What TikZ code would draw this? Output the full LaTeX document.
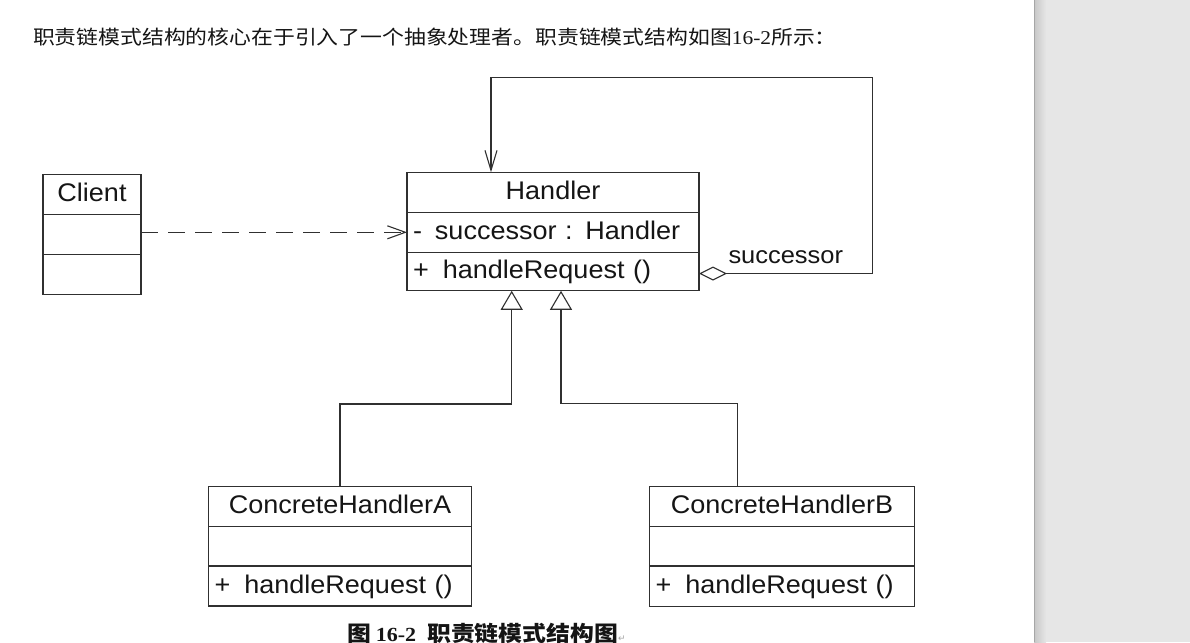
\documentclass[tikz,border=0pt]{standalone}
\usepackage{fontspec}
\setmainfont{Liberation Sans}[FakeStretch=1.06]
\newfontfamily\cjk{Noto Sans CJK SC}[FakeStretch=1.12]
\newfontfamily\serifnum{Liberation Serif}[FakeStretch=1.1]
\newfontfamily\symfont{DejaVu Sans}
\usetikzlibrary{arrows.meta,calc}
\definecolor{panel}{HTML}{E6E6E6}
\definecolor{ink}{HTML}{151515}
\definecolor{edge}{HTML}{303030}
\begin{document}
\begin{tikzpicture}[x=1pt,y=-1pt,
  uml/.style={draw=edge, line width=1.1pt, inner sep=0pt, outer sep=0pt,
    text height=19pt, text depth=5pt, minimum height=40pt,
    font=\fontsize{25.5}{30}\selectfont, text=ink},
  titlerow/.style={uml},
  cell/.style={uml},
  lrow/.style={uml, align=left, inner xsep=6pt},
  dep/.style={draw=edge, line width=1.1pt, dash pattern=on 17pt off 10pt,
    -{Straight Barb[length=18pt,width=13pt]}},
  gen/.style={draw=edge, line width=1.1pt,
    -{Triangle[open,length=19pt,width=22pt]}},
  agg/.style={draw=edge, line width=1.1pt,
    {Diamond[open,length=28pt,width=14pt]}-{Straight Barb[length=20pt,width=12pt]}},
  plain/.style={inner sep=0pt, outer sep=0pt, text=ink}
]
\useasboundingbox (0,0) rectangle (1190,642);
\fill[white] (0,0) rectangle (1034,642);
\fill[panel] (1034,0) rectangle (1190,642);
\shade[left color=black!22, right color=panel] (1034,0) rectangle (1046,642);
\draw[black!35, line width=1pt] (1034.5,0) -- (1034.5,642);

% intro text
\node[plain, anchor=base west, font=\fontsize{19.5}{22}\selectfont\cjk] (intro) at (33,44.5)
  {职责链模式结构的核心在于引入了一个抽象处理者。职责链模式结构如图{\serifnum 16-2}所示：};

% Client
\node[titlerow, minimum width=98pt, anchor=north west] (c1) at (43,174.3) {Client};
\node[cell, minimum width=98pt, anchor=north] (c2) at (c1.south) {};
\node[cell, minimum width=98pt, anchor=north] (c3) at (c2.south) {};

% Handler
\node[titlerow, minimum width=292pt, anchor=north west] (h1) at (407,172.3) {Handler};
\node[lrow, text width=280pt, anchor=north] (h2) at (h1.south) {-\hspace{13pt}successor : Handler};
\node[lrow, text width=280pt, anchor=north, minimum height=38.5pt] (h3) at (h2.south) {+\hspace{14pt}handleRequest ()};

% ConcreteHandlerA
\node[titlerow, minimum width=263pt, anchor=north west] (a1) at (208.5,486.7) {ConcreteHandlerA};
\node[cell, minimum width=263pt, anchor=north, minimum height=39.3pt] (a2) at (a1.south) {};
\node[lrow, text width=251pt, anchor=north] (a3) at (a2.south) {+\hspace{14pt}handleRequest ()};

% ConcreteHandlerB
\node[titlerow, minimum width=265pt, anchor=north west] (b1) at (649.5,486.7) {ConcreteHandlerB};
\node[cell, minimum width=265pt, anchor=north, minimum height=39.3pt] (b2) at (b1.south) {};
\node[lrow, text width=253pt, anchor=north, minimum height=40.7pt] (b3) at (b2.south) {+\hspace{14pt}handleRequest ()};

% label
\node[plain, anchor=base west, font=\fontsize{24}{28}\selectfont] (succ) at (728.5,263.3) {successor};

% coordinates
\coordinate (ta) at ($(h3.south west)+(104.7,0)$);
\coordinate (tb) at ($(h3.south west)+(154,0)$);
\coordinate (pb) at ($(b1.north west)+(88.2,0)$);
\coordinate (lr) at (872.3,77.3);
\coordinate (ht) at ($(h1.north west)+(84,0)$);

% connectors
\draw[dep] (c2.east |- h2.west) -- (h2.west);
\draw[gen] (a1.north) -- ++(0,-82.7) -| (ta);
\draw[gen] (pb) -- ++(0,-83.4) -| (tb);
\draw[agg] ([yshift=-2pt]h3.east) -| (lr) -| (ht);

% caption
\node[plain, anchor=base west, font=\fontsize{21.3}{24}\selectfont\cjk\bfseries] (cap) at (347,641)
  {图\hspace{5pt}{\serifnum\bfseries\fontsize{20}{24}\selectfont 16-2}\hspace{11pt}职责链模式结构图{\symfont\mdseries\fontsize{9}{10}\selectfont\color{black!35}↵}};
\end{tikzpicture}
\end{document}
